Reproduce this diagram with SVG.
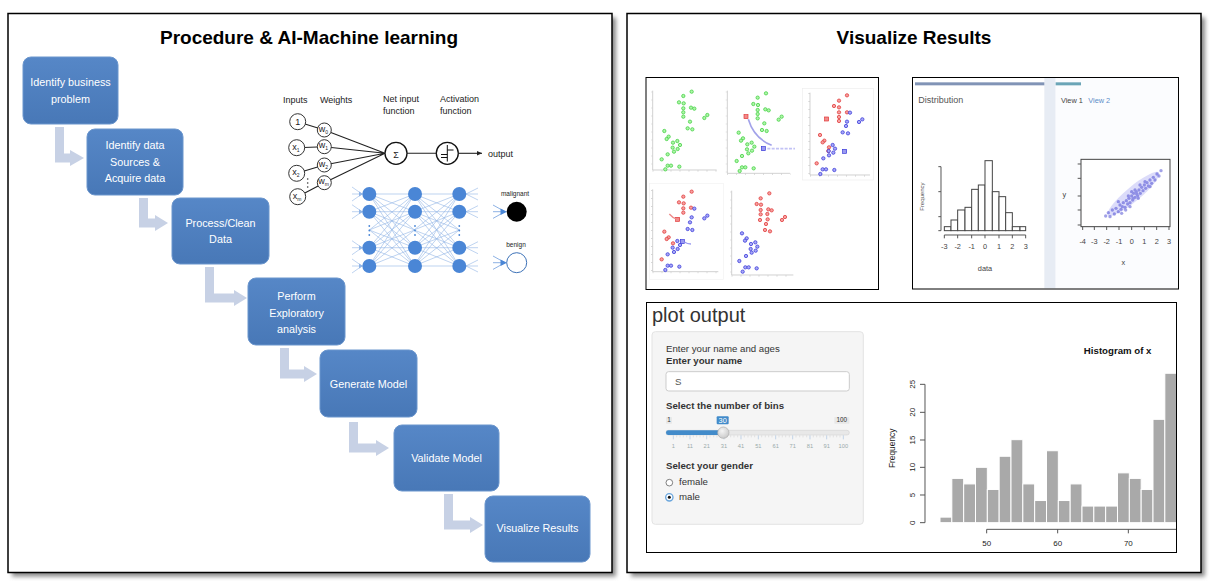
<svg xmlns="http://www.w3.org/2000/svg" width="1210" height="581" viewBox="0 0 1210 581">
<defs>
<style>
.title{font-family:"Liberation Sans",Arial,sans-serif;font-weight:bold;font-size:19px;fill:#000;text-anchor:middle}
.box{fill:url(#boxg);stroke:#6b96cd;stroke-width:1}
.bt{font-family:"Liberation Sans",Arial,sans-serif;font-size:10.8px;fill:#fff;text-anchor:middle}
.arr{fill:#c7d1e5}
.nt{font-family:"Liberation Sans",Arial,sans-serif;font-size:9px;fill:#222}
.nc{fill:#fff;stroke:#333;stroke-width:1}
.nl{stroke:#222;stroke-width:1.1;fill:none}
.nn{fill:#4a86d6}
.ne{stroke:#92b5e6;stroke-width:0.6;fill:none}
.ax{stroke:#bbb;stroke-width:2;fill:none}
.tk{stroke:#ccc;stroke-width:5;fill:none}
.g{fill:#aef5a8;stroke:#3ccf3c;stroke-width:2.2}
.r{fill:#f6a0a0;stroke:#e03434;stroke-width:2.2}
.b{fill:#a8a8f6;stroke:#3434d8;stroke-width:2.2}
.sf{font-family:"Liberation Sans",Arial,sans-serif}
.frame{fill:none;stroke:#000;stroke-width:1}
</style>
<linearGradient id="boxg" x1="0" y1="0" x2="0" y2="1"><stop offset="0" stop-color="#5687c7"/><stop offset="1" stop-color="#4878b7"/></linearGradient>
<radialGradient id="knob" cx="0.4" cy="0.35" r="0.7"><stop offset="0" stop-color="#f4f4f4"/><stop offset="1" stop-color="#c8c8c8"/></radialGradient>
<filter id="sh" x="-5%" y="-5%" width="115%" height="115%"><feGaussianBlur stdDeviation="2"/></filter>
<marker id="ah" markerWidth="6" markerHeight="6" refX="5" refY="3" orient="auto" markerUnits="userSpaceOnUse"><path d="M0,0.8 L5,3 L0,5.2 Z" fill="#222"/></marker>
<g id="mesh">
<path class="ne" d="M369.3 194L414.6 194M369.3 194L414.6 211.7M369.3 194L414.6 230M369.3 194L414.6 247.7M369.3 194L414.6 266M369.3 211.7L414.6 194M369.3 211.7L414.6 211.7M369.3 211.7L414.6 230M369.3 211.7L414.6 247.7M369.3 211.7L414.6 266M369.3 230L414.6 194M369.3 230L414.6 211.7M369.3 230L414.6 247.7M369.3 230L414.6 266M369.3 247.7L414.6 194M369.3 247.7L414.6 211.7M369.3 247.7L414.6 230M369.3 247.7L414.6 247.7M369.3 247.7L414.6 266M369.3 266L414.6 194M369.3 266L414.6 211.7M369.3 266L414.6 230M369.3 266L414.6 247.7M369.3 266L414.6 266"/>
</g>
</defs>

<!-- panels -->
<g id="panel-left">
<rect x="12" y="17.5" width="604" height="559" fill="#8a8a8a" filter="url(#sh)"/>
<rect x="8" y="13.5" width="604" height="559" fill="#fff" stroke="#000" stroke-width="1.5"/>
<text class="title" x="309" y="43.5">Procedure &amp; AI-Machine learning</text>
</g>
<g id="panel-right">
<rect x="631" y="17.5" width="574" height="559" fill="#8a8a8a" filter="url(#sh)"/>
<rect x="627" y="13.5" width="574" height="559" fill="#fff" stroke="#000" stroke-width="1.5"/>
<text class="title" x="914" y="43.5">Visualize Results</text>
</g>

<!-- connectors -->
<g id="connectors">
<polygon class="arr" points="55,127 64,127 64,153.5 70,153.5 70,150 84,158 70,166 70,162.5 55,162.5"/>
<polygon class="arr" points="139,198 148,198 148,218.5 155,218.5 155,215 168,223 155,231 155,227.5 139,227.5"/>
<polygon class="arr" points="205,267 214,267 214,293.5 234,293.5 234,290 247,298 234,306 234,302.5 205,302.5"/>
<polygon class="arr" points="280,348 289,348 289,369.5 304,369.5 304,366 317,374 304,382 304,378.5 280,378.5"/>
<polygon class="arr" points="349,422 358,422 358,443.5 376,443.5 376,440 389,448 376,456 376,452.5 349,452.5"/>
<polygon class="arr" points="444,494 453,494 453,520.5 470,520.5 470,517 483,525 470,533 470,529.5 444,529.5"/>
</g>

<!-- flow boxes -->
<g id="step-identify-business">
<rect class="box" x="23" y="57" width="95" height="67" rx="8"/>
<text class="bt" x="70.5" y="85.5">Identify business</text>
<text class="bt" x="70.5" y="103">problem</text>
</g>
<g id="step-identify-data">
<rect class="box" x="87" y="129" width="96" height="66" rx="8"/>
<text class="bt" x="135" y="149">Identify data</text>
<text class="bt" x="135" y="166">Sources &amp;</text>
<text class="bt" x="135" y="182">Acquire data</text>
</g>
<g id="step-process">
<rect class="box" x="172" y="198" width="97" height="66" rx="8"/>
<text class="bt" x="220.5" y="226.5">Process/Clean</text>
<text class="bt" x="220.5" y="243">Data</text>
</g>
<g id="step-explore">
<rect class="box" x="248" y="278" width="97" height="67" rx="8"/>
<text class="bt" x="296.5" y="300">Perform</text>
<text class="bt" x="296.5" y="316.5">Exploratory</text>
<text class="bt" x="296.5" y="333">analysis</text>
</g>
<g id="step-generate">
<rect class="box" x="320" y="350" width="97" height="67" rx="8"/>
<text class="bt" x="368.5" y="388">Generate Model</text>
</g>
<g id="step-validate">
<rect class="box" x="394" y="425" width="105" height="66" rx="8"/>
<text class="bt" x="446.5" y="462">Validate Model</text>
</g>
<g id="step-visualize">
<rect class="box" x="485" y="496" width="105" height="66" rx="8"/>
<text class="bt" x="537.5" y="532">Visualize Results</text>
</g>

<!-- perceptron -->
<g id="perceptron">
<text class="nt" x="283" y="103">Inputs</text>
<text class="nt" x="320" y="103">Weights</text>
<text class="nt" x="383" y="102">Net input</text>
<text class="nt" x="383" y="114">function</text>
<text class="nt" x="440" y="102">Activation</text>
<text class="nt" x="440" y="114">function</text>
<path class="nl" d="M297.7 121.7L324.3 130M296.7 147.7L324.3 146.7M296.7 173.3L324.3 165M297.7 196.7L324.3 182.7M324.3 130L385 153.3M324.3 146.7L385 153.3M324.3 165L385 153.3M324.3 182.7L385 153.3M407 153.3L436 153.3"/>
<line class="nl" x1="458.5" y1="153.3" x2="482" y2="153.3" marker-end="url(#ah)"/>
<circle class="nc" cx="297.7" cy="121.7" r="8"/>
<circle class="nc" cx="296.7" cy="147.7" r="8"/>
<circle class="nc" cx="296.7" cy="173.3" r="8"/>
<circle class="nc" cx="297.7" cy="196.7" r="8"/>
<circle class="nc" cx="324.3" cy="130" r="7"/>
<circle class="nc" cx="324.3" cy="146.7" r="7"/>
<circle class="nc" cx="324.3" cy="165" r="7"/>
<circle class="nc" cx="324.3" cy="182.7" r="7"/>
<text class="nt" x="297.7" y="124.8" text-anchor="middle" font-size="8.5">1</text>
<text class="nt" x="296" y="149.5" text-anchor="middle" font-size="8">x<tspan font-size="5" dy="2">1</tspan></text>
<text class="nt" x="296" y="175" text-anchor="middle" font-size="8">x<tspan font-size="5" dy="2">2</tspan></text>
<text class="nt" x="297" y="198.5" text-anchor="middle" font-size="8">x<tspan font-size="5" dy="2">m</tspan></text>
<text class="nt" x="323.5" y="131.5" text-anchor="middle" font-size="7.5">w<tspan font-size="5" dy="2">0</tspan></text>
<text class="nt" x="323.5" y="148.2" text-anchor="middle" font-size="7.5">w<tspan font-size="5" dy="2">1</tspan></text>
<text class="nt" x="323.5" y="166.5" text-anchor="middle" font-size="7.5">w<tspan font-size="5" dy="2">2</tspan></text>
<text class="nt" x="323.5" y="184.2" text-anchor="middle" font-size="7.5">w<tspan font-size="5" dy="2">m</tspan></text>
<circle cx="307.7" cy="179" r="0.8" fill="#333"/><circle cx="307.7" cy="183" r="0.8" fill="#333"/><circle cx="307.7" cy="187" r="0.8" fill="#333"/>
<circle cx="396" cy="153.3" r="11" fill="#fff" stroke="#111" stroke-width="1.3"/>
<text class="nt" x="396" y="158" text-anchor="middle" font-size="13">Σ</text>
<circle cx="447.3" cy="153.3" r="11" fill="#fff" stroke="#111" stroke-width="1.3"/>
<path d="M441 157.5H447.3M447.3 145V161.5M447.3 150H453.5M441 154.5H447.3" stroke="#111" stroke-width="1" fill="none"/>
<text class="nt" x="488" y="156.5">output</text>
</g>

<!-- deep network -->
<g id="network">
<use href="#mesh"/>
<use href="#mesh" transform="translate(44.7,0)"/>
<path class="ne" d="M352 187L362 194M352 194L362 194M352 201L362 194M352 204.7L362 211.7M352 211.7L362 211.7M352 218.7L362 211.7M352 240.7L362 247.7M352 247.7L362 247.7M352 254.7L362 247.7M352 259L362 266M352 266L362 266M352 273L362 266M466 194L478 188M466 194L478 194M466 194L478 200M466 211.7L478 205.7M466 211.7L478 211.7M466 211.7L478 217.7M466 247.7L478 241.7M466 247.7L478 247.7M466 247.7L478 253.7M466 266L478 260M466 266L478 266M466 266L478 272"/>
<path d="M359 191.5L363 194L359 196.5ZM359 209.2L363 211.7L359 214.2ZM359 245.2L363 247.7L359 250.2ZM359 263.5L363 266L359 268.5Z" fill="#8fb4e6"/>
<circle class="nn" cx="369.3" cy="194" r="7"/><circle class="nn" cx="369.3" cy="211.7" r="7"/><circle class="nn" cx="369.3" cy="247.7" r="7"/><circle class="nn" cx="369.3" cy="266" r="7"/>
<circle class="nn" cx="415" cy="194" r="7"/><circle class="nn" cx="415" cy="211.7" r="7"/><circle class="nn" cx="415" cy="247.7" r="7"/><circle class="nn" cx="415" cy="266" r="7"/>
<circle class="nn" cx="459.3" cy="194" r="7"/><circle class="nn" cx="459.3" cy="211.7" r="7"/><circle class="nn" cx="459.3" cy="247.7" r="7"/><circle class="nn" cx="459.3" cy="266" r="7"/>
<g fill="#4a86d6">
<circle cx="369.3" cy="226" r="0.9"/><circle cx="369.3" cy="230.5" r="0.9"/><circle cx="369.3" cy="235" r="0.9"/>
<circle cx="415" cy="226" r="0.9"/><circle cx="415" cy="230.5" r="0.9"/><circle cx="415" cy="235" r="0.9"/>
<circle cx="459.3" cy="226" r="0.9"/><circle cx="459.3" cy="230.5" r="0.9"/><circle cx="459.3" cy="235" r="0.9"/>
</g>
<path d="M493 205L505 211.7M493 211.7L505 211.7M493 218.4L505 211.7M493 256L505 262.7M493 262.7L505 262.7M493 269.4L505 262.7" stroke="#5b8fd8" stroke-width="0.7" fill="none"/>
<path d="M500.5 208.5L507 211.7L500.5 214.9ZM500.5 259.5L507 262.7L500.5 265.9Z" fill="#4a86d6"/>
<circle cx="516.7" cy="211.7" r="10" fill="#000"/>
<circle cx="516.7" cy="262.7" r="10" fill="#fff" stroke="#3d72b8" stroke-width="1"/>
<text class="sf" x="515" y="196" font-size="6.5" text-anchor="middle" fill="#222">malignant</text>
<text class="sf" x="516" y="247" font-size="6.5" text-anchor="middle" fill="#222">benign</text>
</g>

<!-- scatter screenshot -->
<g id="scatter-plots">
<rect x="646" y="77.5" width="232.5" height="212" fill="#fff"/>
<g transform="translate(640,70) scale(0.33333)">
<rect x="488" y="55" width="212" height="275" fill="none" stroke="#eee" stroke-width="2"/>
<rect x="28" y="340" width="222" height="288" fill="none" stroke="#f2f2f2" stroke-width="2"/>
<path class="ax" d="M38 62V300H230M262 62V310H450M510 68V315H690M38 358V605H235M275 362V615H460"/>
<path class="tk" stroke-dasharray="2 22" d="M35.5 65V300M259.5 65V310M507.5 70V315M35.5 360V605M272.5 365V615"/>
<path class="tk" stroke-dasharray="2 25" d="M38 302.5H232M262 312.5H452M510 317.5H692M38 607.5H237M275 617.5H462"/>
<g>
<circle class="g" cx="155" cy="65" r="5"/><circle class="g" cx="130" cy="78" r="5"/><circle class="g" cx="117" cy="97" r="5"/><circle class="g" cx="131" cy="100" r="5"/><circle class="g" cx="130" cy="115" r="5"/><circle class="g" cx="153" cy="113" r="5"/><circle class="g" cx="163" cy="116" r="5"/><circle class="g" cx="130" cy="127" r="5"/><circle class="g" cx="150" cy="155" r="5"/><circle class="g" cx="130" cy="140" r="5"/><circle class="g" cx="193" cy="144" r="5"/><circle class="g" cx="202" cy="135" r="5"/><circle class="g" cx="143" cy="175" r="5"/><circle class="g" cx="157" cy="178" r="5"/><circle class="g" cx="73" cy="183" r="5"/><circle class="g" cx="86" cy="200" r="5"/><circle class="g" cx="80" cy="207" r="5"/><circle class="g" cx="99" cy="218" r="5"/><circle class="g" cx="112" cy="213" r="5"/><circle class="g" cx="98" cy="233" r="5"/><circle class="g" cx="120" cy="225" r="5"/><circle class="g" cx="113" cy="237" r="5"/><circle class="g" cx="102" cy="245" r="5"/><circle class="g" cx="83" cy="253" r="5"/><circle class="g" cx="65" cy="268" r="5"/><circle class="g" cx="83" cy="287" r="5"/><circle class="g" cx="93" cy="287" r="5"/><circle class="g" cx="118" cy="290" r="5"/><circle class="g" cx="76" cy="298" r="5"/>
</g>
<g>
<circle class="g" cx="378" cy="70" r="5"/><circle class="g" cx="353" cy="83" r="5"/><circle class="g" cx="340" cy="102" r="5"/><circle class="g" cx="354" cy="105" r="5"/><circle class="g" cx="353" cy="120" r="5"/><circle class="g" cx="376" cy="118" r="5"/><circle class="g" cx="386" cy="121" r="5"/><circle class="g" cx="353" cy="132" r="5"/><circle class="g" cx="373" cy="160" r="5"/><circle class="g" cx="353" cy="145" r="5"/><circle class="g" cx="416" cy="149" r="5"/><circle class="g" cx="425" cy="140" r="5"/><circle class="g" cx="366" cy="180" r="5"/><circle class="g" cx="380" cy="183" r="5"/><circle class="g" cx="296" cy="188" r="5"/><circle class="g" cx="309" cy="205" r="5"/><circle class="g" cx="303" cy="212" r="5"/><circle class="g" cx="322" cy="223" r="5"/><circle class="g" cx="335" cy="218" r="5"/><circle class="g" cx="321" cy="238" r="5"/><circle class="g" cx="343" cy="230" r="5"/><circle class="g" cx="336" cy="242" r="5"/><circle class="g" cx="325" cy="250" r="5"/><circle class="g" cx="306" cy="258" r="5"/><circle class="g" cx="290" cy="273" r="5"/><circle class="g" cx="306" cy="292" r="5"/><circle class="g" cx="316" cy="292" r="5"/><circle class="g" cx="341" cy="295" r="5"/><circle class="g" cx="299" cy="303" r="5"/>
<path d="M325 148Q342 205 395 226" stroke="#7a7ae0" stroke-width="5" fill="none" opacity="0.7"/>
<rect x="312" y="134" width="12" height="12" fill="#f28a8a" stroke="#e03434" stroke-width="2"/>
<rect x="364" y="230" width="12" height="12" fill="#9a9af0" stroke="#3434d8" stroke-width="2"/>
<path d="M382 236H465" stroke="#9a9af0" stroke-width="5" stroke-dasharray="9 4" opacity="0.6"/>
</g>
<g>
<circle class="r" cx="621" cy="76" r="5"/><circle class="r" cx="597" cy="92" r="5"/><circle class="r" cx="582" cy="108" r="5"/><circle class="r" cx="597" cy="112" r="5"/><circle class="r" cx="597" cy="127" r="5"/><circle class="r" cx="621" cy="127" r="5"/><circle class="r" cx="597" cy="141" r="5"/><circle class="r" cx="597" cy="153" r="5"/><circle class="r" cx="540" cy="195" r="5"/><circle class="r" cx="553" cy="212" r="5"/><circle class="r" cx="548" cy="217" r="5"/><circle class="r" cx="567" cy="232" r="5"/><circle class="r" cx="565" cy="243" r="5"/><circle class="r" cx="530" cy="280" r="5"/>
<rect x="554" y="141" width="12" height="12" fill="#f28a8a" stroke="#e03434" stroke-width="2"/>
<circle class="b" cx="630" cy="128" r="5"/><circle class="b" cx="621" cy="155" r="5"/><circle class="b" cx="618" cy="168" r="5"/><circle class="b" cx="608" cy="187" r="5"/><circle class="b" cx="624" cy="190" r="5"/><circle class="b" cx="657" cy="156" r="5"/><circle class="b" cx="667" cy="148" r="5"/><circle class="b" cx="578" cy="225" r="5"/><circle class="b" cx="585" cy="236" r="5"/><circle class="b" cx="566" cy="243" r="5"/><circle class="b" cx="580" cy="248" r="5"/><circle class="b" cx="567" cy="256" r="5"/><circle class="b" cx="550" cy="265" r="5"/><circle class="b" cx="548" cy="298" r="5"/><circle class="b" cx="558" cy="298" r="5"/><circle class="b" cx="541" cy="312" r="5"/><circle class="b" cx="583" cy="300" r="5"/>
<rect x="608" y="238" width="12" height="12" fill="#9a9af0" stroke="#3434d8" stroke-width="2"/>
</g>
<g>
<circle class="r" cx="155" cy="365" r="5"/><circle class="r" cx="130" cy="380" r="5"/><circle class="r" cx="117" cy="397" r="5"/><circle class="r" cx="131" cy="400" r="5"/><circle class="r" cx="130" cy="415" r="5"/><circle class="r" cx="153" cy="413" r="5"/><circle class="r" cx="130" cy="428" r="5"/><circle class="r" cx="73" cy="485" r="5"/><circle class="r" cx="86" cy="502" r="5"/><circle class="r" cx="80" cy="507" r="5"/><circle class="r" cx="99" cy="520" r="5"/><circle class="r" cx="65" cy="568" r="5"/>
<rect x="107" y="442" width="12" height="12" fill="#f28a8a" stroke="#e03434" stroke-width="2"/>
<path d="M88 432Q98 444 110 447" stroke="#ee8a8a" stroke-width="4" fill="none"/>
<circle class="b" cx="163" cy="416" r="5"/><circle class="b" cx="155" cy="442" r="5"/><circle class="b" cx="150" cy="457" r="5"/><circle class="b" cx="143" cy="477" r="5"/><circle class="b" cx="157" cy="480" r="5"/><circle class="b" cx="193" cy="445" r="5"/><circle class="b" cx="202" cy="437" r="5"/><circle class="b" cx="112" cy="513" r="5"/><circle class="b" cx="120" cy="525" r="5"/><circle class="b" cx="98" cy="533" r="5"/><circle class="b" cx="113" cy="537" r="5"/><circle class="b" cx="102" cy="546" r="5"/><circle class="b" cx="83" cy="553" r="5"/><circle class="b" cx="83" cy="587" r="5"/><circle class="b" cx="93" cy="587" r="5"/><circle class="b" cx="118" cy="590" r="5"/><circle class="b" cx="76" cy="600" r="5"/>
<rect x="121" y="509" width="12" height="12" fill="#9a9af0" stroke="#3434d8" stroke-width="2"/>
<path d="M133 516Q142 522 153 522" stroke="#9a9af0" stroke-width="4" fill="none"/>
</g>
<g>
<circle class="r" cx="388" cy="370" r="5"/><circle class="r" cx="362" cy="385" r="5"/><circle class="r" cx="350" cy="402" r="5"/><circle class="r" cx="363" cy="404" r="5"/><circle class="r" cx="362" cy="420" r="5"/><circle class="r" cx="385" cy="418" r="5"/><circle class="r" cx="395" cy="421" r="5"/><circle class="r" cx="362" cy="433" r="5"/><circle class="r" cx="382" cy="432" r="5"/><circle class="r" cx="383" cy="448" r="5"/><circle class="r" cx="360" cy="450" r="5"/><circle class="r" cx="378" cy="462" r="5"/><circle class="r" cx="426" cy="450" r="5"/><circle class="r" cx="435" cy="441" r="5"/><circle class="r" cx="375" cy="480" r="5"/><circle class="r" cx="390" cy="484" r="5"/>
<circle class="b" cx="306" cy="490" r="5"/><circle class="b" cx="320" cy="505" r="5"/><circle class="b" cx="315" cy="512" r="5"/><circle class="b" cx="333" cy="522" r="5"/><circle class="b" cx="346" cy="517" r="5"/><circle class="b" cx="332" cy="537" r="5"/><circle class="b" cx="352" cy="530" r="5"/><circle class="b" cx="347" cy="542" r="5"/><circle class="b" cx="335" cy="548" r="5"/><circle class="b" cx="318" cy="558" r="5"/><circle class="b" cx="298" cy="573" r="5"/><circle class="b" cx="316" cy="592" r="5"/><circle class="b" cx="326" cy="592" r="5"/><circle class="b" cx="350" cy="595" r="5"/><circle class="b" cx="308" cy="605" r="5"/>
</g>
</g>
<rect class="frame" x="646" y="77.5" width="232.5" height="212"/>
</g>

<!-- distribution screenshot -->
<g id="distribution">
<g transform="translate(905,70) scale(0.33333)">
<rect x="22" y="22" width="396" height="633" fill="#fff"/>
<rect x="418" y="22" width="34" height="633" fill="#e7ecf4"/>
<rect x="452" y="22" width="370" height="633" fill="#fbfcfe"/>
<rect x="30" y="37" width="388" height="9" fill="#8194b6"/>
<rect x="452" y="37" width="76" height="9" fill="#6ba5b7"/>
<text class="sf" x="40" y="100" font-size="27" fill="#555">Distribution</text>
<text class="sf" x="468" y="100" font-size="22" fill="#444">View 1</text>
<text class="sf" x="550" y="100" font-size="22" fill="#5b8dc9">View 2</text>
<g fill="#fff" stroke="#444" stroke-width="3">
<rect x="118" y="470" width="20" height="12"/>
<rect x="138" y="450" width="20" height="32"/>
<rect x="158" y="420" width="22" height="62"/>
<rect x="180" y="412" width="20" height="70"/>
<rect x="200" y="358" width="20" height="124"/>
<rect x="220" y="345" width="20" height="137"/>
<rect x="240" y="272" width="22" height="210"/>
<rect x="262" y="365" width="20" height="117"/>
<rect x="282" y="380" width="20" height="102"/>
<rect x="302" y="428" width="20" height="54"/>
<rect x="322" y="470" width="23" height="12"/>
<rect x="345" y="470" width="17" height="12"/>
</g>
<path d="M108 290V482M100 290H108M100 365H108M100 440H108M100 482H108" stroke="#555" stroke-width="3" fill="none"/>
<path d="M118 495H362M118 495V505M158 495V505M200 495V505M240 495V505M282 495V505M322 495V505M362 495V505" stroke="#555" stroke-width="3" fill="none"/>
<text class="sf" transform="translate(58,380) rotate(-90)" font-size="18" fill="#555" text-anchor="middle">Frequency</text>
<g class="sf" font-size="22" fill="#444" text-anchor="middle">
<text x="118" y="537">-3</text><text x="158" y="537">-2</text><text x="200" y="537">-1</text><text x="240" y="537">0</text><text x="282" y="537">1</text><text x="322" y="537">2</text><text x="362" y="537">3</text>
<text x="240" y="603">data</text>
</g>
<rect x="528" y="268" width="267" height="202" fill="#fff" stroke="#444" stroke-width="3"/>
<path d="M528 282H518M528 325H518M528 378H518M528 420H518M528 465H518M533 470V480M568 470V480M605 470V480M642 470V480M680 470V480M718 470V480M755 470V480M792 470V480" stroke="#555" stroke-width="3" fill="none"/>
<ellipse cx="685" cy="372" rx="100" ry="22" transform="rotate(-40 685 372)" fill="#9a9af0" opacity="0.35"/>
<g fill="#3333cc" opacity="0.45">
<circle cx="602" cy="438" r="5"/><circle cx="610" cy="428" r="5"/><circle cx="615" cy="440" r="5"/><circle cx="622" cy="420" r="5"/><circle cx="628" cy="432" r="5"/><circle cx="633" cy="415" r="5"/><circle cx="640" cy="425" r="5"/><circle cx="645" cy="405" r="5"/><circle cx="648" cy="418" r="5"/><circle cx="655" cy="398" r="5"/><circle cx="652" cy="410" r="5"/><circle cx="660" cy="412" r="5"/><circle cx="664" cy="392" r="5"/><circle cx="668" cy="402" r="5"/><circle cx="672" cy="385" r="5"/><circle cx="675" cy="398" r="5"/><circle cx="680" cy="378" r="5"/><circle cx="683" cy="390" r="5"/><circle cx="686" cy="370" r="5"/><circle cx="690" cy="382" r="5"/><circle cx="694" cy="365" r="5"/><circle cx="698" cy="377" r="5"/><circle cx="702" cy="360" r="5"/><circle cx="706" cy="370" r="5"/><circle cx="710" cy="352" r="5"/><circle cx="714" cy="362" r="5"/><circle cx="718" cy="345" r="5"/><circle cx="722" cy="355" r="5"/><circle cx="726" cy="338" r="5"/><circle cx="730" cy="348" r="5"/><circle cx="735" cy="330" r="5"/><circle cx="740" cy="340" r="5"/><circle cx="745" cy="322" r="5"/><circle cx="750" cy="330" r="5"/><circle cx="756" cy="312" r="5"/><circle cx="762" cy="318" r="5"/><circle cx="768" cy="302" r="5"/><circle cx="640" cy="395" r="5"/><circle cx="662" cy="420" r="5"/><circle cx="690" cy="360" r="5"/><circle cx="700" cy="385" r="5"/><circle cx="720" cy="335" r="5"/><circle cx="675" cy="410" r="5"/><circle cx="650" cy="430" r="5"/><circle cx="735" cy="350" r="5"/><circle cx="680" cy="365" r="5"/><circle cx="695" cy="372" r="5"/><circle cx="705" cy="345" r="5"/><circle cx="670" cy="378" r="5"/><circle cx="685" cy="385" r="5"/>
</g>
<g class="sf" font-size="22" fill="#444" text-anchor="middle">
<text x="533" y="522">-4</text><text x="568" y="522">-3</text><text x="605" y="522">-2</text><text x="642" y="522">-1</text><text x="680" y="522">0</text><text x="718" y="522">1</text><text x="755" y="522">2</text><text x="792" y="522">3</text>
<text x="655" y="585">x</text>
<text x="478" y="382">y</text>
</g>
</g>
<rect class="frame" x="912.5" y="77.5" width="266" height="211.5"/>
</g>

<!-- shiny app screenshot -->
<g id="shiny-app">
<rect x="646.5" y="302.5" width="530" height="250" fill="#fff"/>
<g transform="translate(640,295) scale(0.33333)">
<text class="sf" x="36" y="80" font-size="60" fill="#333">plot output</text>
<rect x="36" y="110" width="634" height="578" rx="10" fill="#f5f5f5" stroke="#e3e3e3" stroke-width="3"/>
<text class="sf" x="78" y="170" font-size="29" fill="#333">Enter your name and ages</text>
<text class="sf" x="78" y="208" font-size="29" font-weight="bold" fill="#333">Enter your name</text>
<rect x="78" y="230" width="550" height="58" rx="8" fill="#fff" stroke="#ccc" stroke-width="3"/>
<text class="sf" x="105" y="269" font-size="29" fill="#555">S</text>
<text class="sf" x="78" y="341" font-size="29" font-weight="bold" fill="#333">Select the number of bins</text>
<rect x="78" y="366" width="18" height="20" rx="2" fill="#e8e8e8"/>
<text class="sf" x="87" y="382" font-size="19" fill="#333" text-anchor="middle">1</text>
<rect x="230" y="364" width="36" height="24" rx="3" fill="#428bca"/>
<text class="sf" x="248" y="383" font-size="22" fill="#fff" text-anchor="middle">30</text>
<rect x="583" y="366" width="45" height="20" rx="2" fill="#e8e8e8"/>
<text class="sf" x="605.5" y="382" font-size="19" fill="#333" text-anchor="middle">100</text>
<rect x="78" y="406" width="550" height="14" rx="7" fill="#e8e8e8" stroke="#ccc" stroke-width="1.5"/>
<rect x="78" y="406" width="172" height="14" rx="7" fill="#428bca"/>
<path d="M100 421V433M150 421V433M200 421V433M252 421V433M303 421V433M355 421V433M407 421V433M458 421V433M510 421V433M560 421V433M610 421V433" stroke="#a9c3e0" stroke-width="2"/>
<path d="M110 421V427M120 421V427M130 421V427M140 421V427M160 421V427M170 421V427M180 421V427M190 421V427M210 421V427M221 421V427M231 421V427M241 421V427M262 421V427M272 421V427M282 421V427M293 421V427M313 421V427M324 421V427M334 421V427M344 421V427M365 421V427M376 421V427M386 421V427M396 421V427M417 421V427M427 421V427M437 421V427M448 421V427M468 421V427M479 421V427M489 421V427M500 421V427M520 421V427M530 421V427M540 421V427M550 421V427M570 421V427M580 421V427M590 421V427M600 421V427" stroke="#ccc" stroke-width="1.5"/>
<circle cx="250" cy="413" r="17" fill="url(#knob)" stroke="#aaa" stroke-width="2"/>
<g class="sf" font-size="17" fill="#9aa" text-anchor="middle">
<text x="100" y="458">1</text><text x="150" y="458">11</text><text x="200" y="458">21</text><text x="252" y="458">31</text><text x="303" y="458">41</text><text x="355" y="458">51</text><text x="407" y="458">61</text><text x="458" y="458">71</text><text x="510" y="458">81</text><text x="560" y="458">91</text><text x="610" y="458">100</text>
</g>
<text class="sf" x="78" y="523" font-size="29" font-weight="bold" fill="#333">Select your gender</text>
<circle cx="88" cy="563" r="10" fill="#fff" stroke="#666" stroke-width="2.5"/>
<text class="sf" x="117" y="570" font-size="29" fill="#333">female</text>
<circle cx="88" cy="607" r="11" fill="#fff" stroke="#6aa6dd" stroke-width="4"/>
<circle cx="88" cy="607" r="4.5" fill="#111"/>
<text class="sf" x="117" y="614" font-size="29" fill="#333">male</text>
</g>
</g>

<!-- histogram -->
<g id="histogram">
<g transform="translate(870,330) scale(0.33333)">
<text class="sf" x="743" y="73" font-size="29" font-weight="bold" fill="#111" text-anchor="middle">Histogram of x</text>
<g fill="#a9a9a9" stroke="#fff" stroke-width="3">
<rect x="210" y="561.4" width="35.5" height="16.6"/>
<rect x="245.5" y="445.2" width="35.5" height="132.8"/>
<rect x="281" y="461.8" width="35.5" height="116.2"/>
<rect x="316.5" y="412" width="35.5" height="166"/>
<rect x="352" y="478.4" width="35.5" height="99.6"/>
<rect x="387.5" y="378.8" width="35.5" height="199.2"/>
<rect x="423" y="329" width="35.5" height="249"/>
<rect x="458.5" y="461.8" width="35.5" height="116.2"/>
<rect x="494" y="511.6" width="35.5" height="66.4"/>
<rect x="529.5" y="362.2" width="35.5" height="215.8"/>
<rect x="565" y="511.6" width="35.5" height="66.4"/>
<rect x="600.5" y="461.8" width="35.5" height="116.2"/>
<rect x="636" y="528.2" width="35.5" height="49.8"/>
<rect x="671.5" y="528.2" width="35.5" height="49.8"/>
<rect x="707" y="528.2" width="35.5" height="49.8"/>
<rect x="742.5" y="428.6" width="35.5" height="149.4"/>
<rect x="778" y="445.2" width="35.5" height="132.8"/>
<rect x="813.5" y="478.4" width="35.5" height="99.6"/>
<rect x="849" y="268" width="35.5" height="310"/>
<rect x="884.5" y="129.8" width="35.5" height="448.2"/>
</g>
<path d="M165 163V578M150 578H165M150 495H165M150 412H165M150 330H165M150 247H165M150 163H165" stroke="#555" stroke-width="3" fill="none"/>
<path d="M350 598H920M350 598V610M563 598V610M775 598V610" stroke="#555" stroke-width="3" fill="none"/>
<g class="sf" font-size="24" fill="#222" text-anchor="middle">
<text transform="translate(135,578) rotate(-90)">0</text>
<text transform="translate(135,495) rotate(-90)">5</text>
<text transform="translate(135,412) rotate(-90)">10</text>
<text transform="translate(135,330) rotate(-90)">15</text>
<text transform="translate(135,247) rotate(-90)">20</text>
<text transform="translate(135,163) rotate(-90)">25</text>
<text transform="translate(76,355) rotate(-90)" font-size="25">Frequency</text>
<text x="350" y="648">50</text><text x="563" y="648">60</text><text x="775" y="648">70</text>
</g>
</g>
</g>
<rect class="frame" x="646.5" y="302.5" width="530" height="250"/>
</svg>
